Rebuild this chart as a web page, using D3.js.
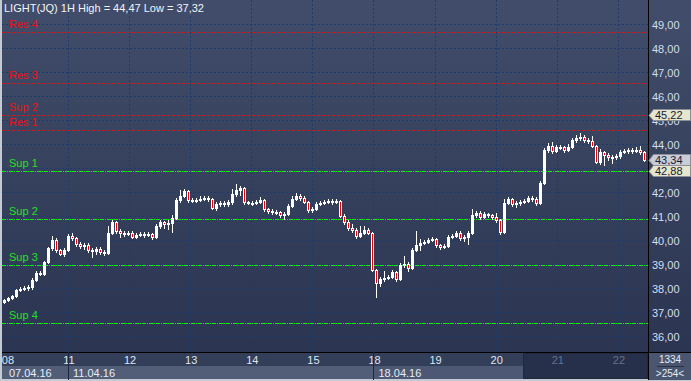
<!DOCTYPE html>
<html>
<head>
<meta charset="utf-8">
<script src="https://cdn.jsdelivr.net/npm/d3@7"></script>
<style>
  body { margin: 0; background: #c4cad3; }
  svg { display: block; font-family: "Liberation Sans", Arial, sans-serif; }
  line, rect { shape-rendering: crispEdges; }
</style>
</head>
<body>
<div id="chart"></div>
<script>
var title = 'LIGHT(JQ) 1H High = 44,47 Low = 37,32';

// hourly candles
var opens = [37.45, 37.52, 37.60, 37.69, 37.94, 37.98, 38.02, 38.06, 38.35, 38.65, 38.62, 39.10, 39.69, 40.02, 39.60, 39.44, 39.60, 40.19, 40.10, 39.85,
  39.77, 39.81, 39.60, 39.56, 39.65, 39.52, 39.48, 40.31, 40.77, 40.40, 40.31, 40.27, 40.31, 40.15, 40.23, 40.27, 40.23, 40.27, 40.15, 40.60,
  40.77, 40.69, 40.73, 40.94, 41.69, 41.85, 42.06, 41.69, 41.65, 41.69, 41.73, 41.77, 41.73, 41.35, 41.52, 41.56, 41.52, 41.60, 41.94, 42.10,
  42.19, 41.60, 41.56, 41.56, 41.60, 41.69, 41.31, 41.23, 41.19, 41.19, 41.06, 41.10, 41.44, 41.73, 41.85, 41.77, 41.60, 41.27, 41.31, 41.52,
  41.56, 41.60, 41.65, 41.60, 41.65, 41.02, 40.77, 40.52, 40.44, 40.19, 40.31, 40.44, 40.31, 38.77, 38.23, 38.40, 38.44, 38.48, 38.69, 38.40,
  38.98, 39.02, 38.85, 39.60, 39.81, 39.90, 39.94, 40.02, 40.06, 39.81, 39.73, 39.77, 40.15, 40.19, 40.31, 40.10, 40.15, 40.31, 41.06, 41.15,
  40.98, 41.10, 41.06, 40.98, 40.85, 40.35, 41.56, 41.73, 41.52, 41.56, 41.60, 41.65, 41.77, 41.73, 41.56, 42.40, 43.77, 43.94, 43.73, 43.90,
  43.90, 43.77, 43.90, 44.19, 44.27, 44.31, 44.19, 44.15, 43.94, 43.27, 43.69, 43.56, 43.48, 43.48, 43.52, 43.69, 43.73, 43.77, 43.73, 43.77,
  43.69];
var closes = [37.52, 37.60, 37.69, 37.94, 37.98, 38.02, 38.06, 38.35, 38.65, 38.62, 39.10, 39.69, 40.02, 39.60, 39.44, 39.60, 40.19, 40.10, 39.85, 39.77,
  39.81, 39.60, 39.56, 39.65, 39.52, 39.48, 40.31, 40.77, 40.40, 40.31, 40.27, 40.31, 40.15, 40.23, 40.27, 40.23, 40.27, 40.15, 40.60, 40.77,
  40.69, 40.73, 40.94, 41.69, 41.85, 42.06, 41.69, 41.65, 41.69, 41.73, 41.77, 41.73, 41.35, 41.52, 41.56, 41.52, 41.60, 41.94, 42.10, 42.19,
  41.60, 41.56, 41.56, 41.60, 41.69, 41.31, 41.23, 41.19, 41.19, 41.06, 41.10, 41.44, 41.73, 41.85, 41.77, 41.60, 41.27, 41.31, 41.52, 41.56,
  41.60, 41.65, 41.60, 41.65, 41.02, 40.77, 40.52, 40.44, 40.19, 40.31, 40.44, 40.31, 38.77, 38.23, 38.40, 38.44, 38.48, 38.69, 38.40, 38.98,
  39.02, 38.85, 39.60, 39.81, 39.90, 39.94, 40.02, 40.06, 39.81, 39.73, 39.77, 40.15, 40.19, 40.31, 40.10, 40.15, 40.31, 41.06, 41.15, 40.98,
  41.10, 41.06, 40.98, 40.85, 40.35, 41.56, 41.73, 41.52, 41.56, 41.60, 41.65, 41.77, 41.73, 41.56, 42.40, 43.77, 43.94, 43.73, 43.90, 43.90,
  43.77, 43.90, 44.19, 44.27, 44.31, 44.19, 44.15, 43.94, 43.27, 43.69, 43.56, 43.48, 43.48, 43.52, 43.69, 43.73, 43.77, 43.73, 43.77, 43.69,
  43.34];
var highs = [37.58, 37.66, 37.75, 38.00, 38.06, 38.10, 38.15, 38.42, 38.72, 38.75, 39.15, 39.75, 40.20, 40.10, 39.65, 39.69, 40.27, 40.31, 40.15, 39.94,
  39.90, 39.88, 39.69, 39.73, 39.73, 39.60, 40.60, 40.85, 40.81, 40.48, 40.40, 40.40, 40.40, 40.31, 40.35, 40.35, 40.35, 40.31, 40.69, 40.85,
  40.81, 40.85, 41.06, 41.77, 42.10, 42.15, 42.10, 41.77, 41.77, 41.85, 41.85, 41.85, 41.77, 41.60, 41.65, 41.65, 41.69, 42.15, 42.35, 42.27,
  42.23, 41.65, 41.65, 41.69, 41.81, 41.73, 41.35, 41.31, 41.27, 41.23, 41.19, 41.52, 41.85, 41.98, 41.94, 41.85, 41.65, 41.40, 41.60, 41.65,
  41.69, 41.73, 41.73, 41.73, 41.69, 41.10, 40.85, 40.69, 40.52, 40.60, 40.60, 40.52, 40.35, 38.81, 38.48, 38.73, 38.56, 38.77, 38.73, 39.06,
  39.35, 39.10, 39.69, 40.40, 40.06, 40.02, 40.10, 40.15, 40.10, 39.85, 39.85, 40.23, 40.27, 40.40, 40.40, 40.23, 40.40, 41.31, 41.23, 41.23,
  41.19, 41.15, 41.10, 41.15, 40.90, 41.73, 41.81, 41.77, 41.65, 41.69, 41.73, 41.85, 41.85, 41.81, 42.48, 43.85, 44.06, 44.10, 43.98, 43.98,
  43.94, 44.02, 44.27, 44.40, 44.47, 44.40, 44.27, 44.35, 43.98, 43.81, 43.73, 43.65, 43.56, 43.60, 43.77, 43.81, 43.85, 43.85, 43.90, 43.94,
  43.73];
var lows = [37.40, 37.48, 37.55, 37.65, 37.88, 37.92, 37.95, 38.00, 38.30, 38.55, 38.58, 39.05, 39.62, 39.52, 39.38, 39.35, 39.55, 40.02, 39.77, 39.69,
  39.65, 39.52, 39.31, 39.44, 39.44, 39.40, 39.44, 40.27, 40.31, 40.15, 40.19, 40.23, 40.10, 40.10, 40.19, 40.15, 40.19, 40.06, 40.10, 40.52,
  40.52, 40.48, 40.35, 40.90, 41.60, 41.81, 41.60, 41.60, 41.60, 41.65, 41.69, 41.65, 41.31, 41.27, 41.44, 41.44, 41.44, 41.52, 41.85, 41.90,
  41.52, 41.52, 41.48, 41.52, 41.56, 41.23, 41.15, 41.10, 41.10, 40.98, 40.90, 41.06, 41.40, 41.69, 41.69, 41.56, 41.19, 41.19, 41.27, 41.48,
  41.52, 41.56, 41.52, 41.56, 40.98, 40.69, 40.44, 40.35, 40.10, 40.15, 40.27, 40.27, 38.73, 37.64, 38.10, 38.31, 38.40, 38.44, 38.31, 38.35,
  38.90, 38.73, 38.81, 39.56, 39.60, 39.85, 39.90, 39.98, 39.73, 39.65, 39.69, 39.73, 40.10, 40.15, 40.02, 39.98, 39.85, 40.27, 40.98, 40.90,
  40.94, 40.98, 40.90, 40.77, 40.27, 40.31, 41.52, 41.44, 41.40, 41.48, 41.56, 41.60, 41.65, 41.48, 41.52, 42.35, 43.69, 43.65, 43.69, 43.81,
  43.69, 43.73, 43.85, 44.10, 44.19, 44.10, 44.06, 43.90, 43.23, 43.19, 43.15, 43.35, 43.23, 43.40, 43.44, 43.65, 43.65, 43.65, 43.69, 43.60,
  43.31];

var yTicks = [36, 37, 38, 39, 40, 41, 42, 43, 44, 45, 46, 47, 48, 49];
var dayLabels = ['08', '11', '12', '13', '14', '15', '18', '19', '20', '21', '22'];
var weekLabels = ['07.04.16', '11.04.16', '18.04.16'];
var weekDayIndex = [0, 1, 6];

var levelNames = ['Res 4', 'Res 3', 'Sup 2', 'Res 1', 'Sup 1', 'Sup 2', 'Sup 3', 'Sup 4'];
var levelValues = [48.68, 46.55, 45.22, 44.59, 42.88, 40.88, 38.97, 36.57];
var levelKinds = ['res', 'res', 'res', 'res', 'sup', 'sup', 'sup', 'sup'];

var tagValues = [45.22, 43.34, 42.88];
var tagKinds = ['level', 'last', 'level'];

var footerTop = '1334';
var footerBottom = '>254<';

(function () {
  var width = 691;
  var height = 381;
  var plot = { left: 2, right: 648, top: 0, bottom: 352 };
  var colors = {
    res: '#d41616',
    sup: '#10ec10',
    grid: '#1e3b6c',
    up: '#ffffff',
    down: '#ee0000',
    axisText: '#d4def0'
  };
  var dashes = { res: '3,2', sup: '4,1,1,1' };
  var fmt = function (v) { return v.toFixed(2).replace('.', ','); };
  var crisp = function (v) { return Math.round(v) + 0.5; };

  var yScale = d3.scaleLinear().domain([36, 49]).range([336.5, 24.5]);
  var xScale = d3.scaleBand().domain(d3.range(closes.length)).range([3, 647]);
  var dayScale = d3.scaleLinear().domain([0, 10]).range([6.9, 617.9]);

  var svg = d3.select('#chart').append('svg')
      .attr('width', width)
      .attr('height', height);

  var defs = svg.append('defs');
  var grad = defs.append('linearGradient').attr('id', 'bg')
      .attr('x1', 0).attr('y1', 0).attr('x2', 0).attr('y2', 1);
  grad.append('stop').attr('offset', '0%').attr('stop-color', '#414d6a');
  grad.append('stop').attr('offset', '100%').attr('stop-color', '#2b3551');

  // frame + backgrounds
  svg.append('rect').attr('width', width).attr('height', height).attr('fill', '#c4cad3');
  svg.append('rect').attr('x', 2).attr('y', 0).attr('width', width - 2).attr('height', plot.bottom)
      .attr('fill', 'url(#bg)');

  // bottom axis rows
  svg.append('rect').attr('x', 2).attr('y', plot.bottom).attr('width', plot.right - 2).attr('height', 14)
      .attr('fill', '#333e59');
  svg.append('rect').attr('x', 2).attr('y', plot.bottom + 14).attr('width', plot.right - 2).attr('height', 13)
      .attr('fill', '#4d5974');
  svg.append('rect').attr('x', 2).attr('y', plot.bottom + 14)
      .attr('width', dayScale(6) - 2).attr('height', 13).attr('fill', '#525e78');
  svg.append('rect').attr('x', Math.round(dayScale(8.45)) + 0.5).attr('y', plot.bottom + 1.5)
      .attr('width', plot.right - Math.round(dayScale(8.45)) - 1).attr('height', 25)
      .attr('fill', '#27304a').attr('stroke', '#20283e');
  svg.append('rect').attr('x', plot.right).attr('y', plot.bottom).attr('width', width - plot.right).attr('height', height - plot.bottom - 1)
      .attr('fill', '#4a5670');

  // grid
  var grid = svg.append('g').attr('class', 'grid')
      .attr('stroke', colors.grid).attr('stroke-dasharray', '2,2');
  grid.selectAll('line.h').data(yTicks).enter().append('line').attr('class', 'h')
      .attr('x1', plot.left).attr('x2', plot.right)
      .attr('y1', function (d) { return crisp(yScale(d) - 0.5); })
      .attr('y2', function (d) { return crisp(yScale(d) - 0.5); });
  grid.selectAll('line.v').data(d3.range(1, dayLabels.length)).enter().append('line').attr('class', 'v')
      .attr('y1', plot.top).attr('y2', plot.bottom)
      .attr('x1', function (d) { return crisp(dayScale(d)); })
      .attr('x2', function (d) { return crisp(dayScale(d)); });

  // support / resistance lines
  var levels = svg.append('g').attr('class', 'levels');
  levels.selectAll('line').data(levelValues).enter().append('line')
      .attr('x1', plot.left).attr('x2', plot.right)
      .attr('y1', function (d) { return crisp(yScale(d)); })
      .attr('y2', function (d) { return crisp(yScale(d)); })
      .attr('stroke', function (d, i) { return colors[levelKinds[i]]; })
      .attr('stroke-dasharray', function (d, i) { return dashes[levelKinds[i]]; });
  levels.selectAll('text').data(levelValues).enter().append('text')
      .attr('x', 9)
      .attr('y', function (d) { return Math.round(yScale(d)) - 4; })
      .attr('fill', function (d, i) { return levelKinds[i] === 'res' ? '#f01010' : '#22e022'; })
      .style('font-size', '11px')
      .text(function (d, i) { return levelNames[i]; });

  // candles
  var candles = svg.append('g').attr('class', 'candles');
  var c = candles.selectAll('g').data(closes).enter().append('g');
  c.append('line')
      .attr('x1', function (d, i) { return xScale(i) + 1.5; })
      .attr('x2', function (d, i) { return xScale(i) + 1.5; })
      .attr('y1', function (d, i) { return Math.round(yScale(highs[i])); })
      .attr('y2', function (d, i) { return Math.round(yScale(lows[i])) + 1; })
      .attr('stroke', '#fff');
  c.append('rect')
      .attr('x', function (d, i) { return xScale(i) + 0.5; })
      .attr('y', function (d, i) { return Math.round(yScale(Math.max(opens[i], d))) + 0.5; })
      .attr('width', 2)
      .attr('height', function (d, i) {
        return Math.max(1, Math.round(yScale(Math.min(opens[i], d))) - Math.round(yScale(Math.max(opens[i], d))));
      })
      .attr('fill', function (d, i) { return d < opens[i] ? colors.down : colors.up; })
      .attr('stroke', '#fff');

  // title
  svg.append('text').attr('x', 4).attr('y', 12)
      .attr('fill', '#f2f4f8').style('font-size', '11px')
      .text(title);

  // axis borders
  svg.append('line').attr('x1', crisp(plot.right - 0.5)).attr('x2', crisp(plot.right - 0.5))
      .attr('y1', 0).attr('y2', height - 1).attr('stroke', '#000');
  svg.append('line').attr('x1', 2).attr('x2', width).attr('y1', crisp(plot.bottom - 0.5)).attr('y2', crisp(plot.bottom - 0.5))
      .attr('stroke', '#000');

  // right axis (labels sitting right under a price tag are hidden, as in the source)
  var covered = function (v) {
    return tagValues.some(function (t) { return Math.abs(yScale(t) - yScale(v)) < 4; });
  };
  var yAxisEl = svg.append('g').attr('class', 'y-axis');
  yAxisEl.selectAll('text').data(yTicks.filter(function (v) { return !covered(v); })).enter().append('text')
      .attr('x', 652)
      .attr('y', function (d) { return yScale(d) + 4; })
      .attr('fill', colors.axisText).style('font-size', '11px')
      .text(fmt);

  var tags = svg.append('g').attr('class', 'tags');
  var tag = tags.selectAll('g').data(tagValues).enter().append('g')
      .attr('transform', function (d) { return 'translate(0,' + Math.round(yScale(d)) + ')'; });
  tag.append('path')
      .attr('d', 'M649,0.5 L653.5,-5.5 L690.5,-5.5 L690.5,5.5 L653.5,5.5 Z')
      .attr('fill', function (d, i) { return tagKinds[i] === 'last' ? '#c9cdd8' : '#e6e6cf'; })
      .attr('stroke', '#8a8f9a');
  tag.append('text').attr('x', 655).attr('y', 4)
      .attr('fill', '#1a2030').style('font-size', '11px')
      .text(fmt);

  // bottom axis
  var xAxisEl = svg.append('g').attr('class', 'x-axis');
  xAxisEl.selectAll('text').data(dayLabels).enter().append('text')
      .attr('x', function (d, i) { return dayScale(i) + 1; })
      .attr('y', 364)
      .attr('text-anchor', 'middle')
      .attr('fill', function (d, i) { return i >= 9 ? '#66728c' : '#dfe7f5'; })
      .style('font-size', '11px')
      .text(function (d) { return d; });
  xAxisEl.selectAll('line').data(weekDayIndex.slice(1)).enter().append('line')
      .attr('x1', function (d) { return crisp(dayScale(d) - 0.5); })
      .attr('x2', function (d) { return crisp(dayScale(d) - 0.5); })
      .attr('y1', plot.bottom).attr('y2', height - 1)
      .attr('stroke', '#1d2640');
  xAxisEl.selectAll('text.week').data(weekLabels).enter().append('text').attr('class', 'week')
      .attr('x', function (d, i) { return dayScale(weekDayIndex[i]) + (i === 0 ? 2 : 5); })
      .attr('y', 377)
      .attr('fill', '#e6ecf6').style('font-size', '11px')
      .text(function (d) { return d; });

  // corner box
  svg.append('text').attr('x', 670).attr('y', 363).attr('text-anchor', 'middle')
      .attr('fill', '#e6ecf6').style('font-size', '10px').text(footerTop);
  svg.append('line').attr('x1', 657).attr('x2', 684).attr('y1', 366.5).attr('y2', 366.5).attr('stroke', '#2a3248');
  svg.append('text').attr('x', 670).attr('y', 377).attr('text-anchor', 'middle')
      .attr('fill', '#e6ecf6').style('font-size', '10px').text(footerBottom);
})();
</script>
</body>
</html>
